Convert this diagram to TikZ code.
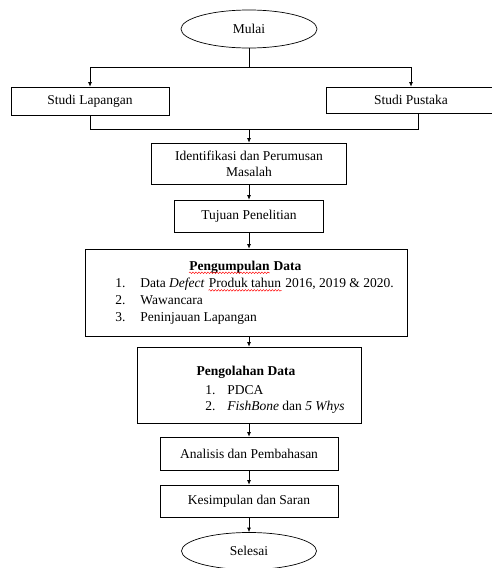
\documentclass[tikz,border=0pt]{standalone}
\usepackage{fontspec}
\setmainfont{Liberation Serif}
\usetikzlibrary{shapes.geometric,arrows.meta,decorations.pathmorphing}

\begin{document}
\begin{tikzpicture}[x=1pt, y=-1pt, line width=0.7pt,
    box/.style={draw, rectangle, inner sep=2pt},
    oval/.style={draw, ellipse, inner sep=0pt, minimum width=136pt, minimum height=38pt},
    arr/.style={-{Latex[length=4.5pt,width=4pt]}},
    word/.style={anchor=base west, inner sep=0pt},
    wave/.style={red, line width=0.45pt, decorate, decoration={snake, amplitude=0.8pt, segment length=3pt}},
    font=\fontsize{13.5}{16}\selectfont]
    \useasboundingbox (0,0) rectangle (492,568);
    % start and the two studies
    \node[oval] (mulai) at (249,29) {Mulai};
    \node[box, minimum width=158pt, minimum height=28pt] (lapangan) at (90,101) {Studi Lapangan};
    \node[box, minimum width=170pt, minimum height=26pt] (pustaka) at (411,100) {Studi Pustaka};
    \coordinate (cabang) at (249,67);
    \coordinate (gabung) at (249,129);
    \draw (mulai) -- (cabang);
    \draw[arr] (cabang) -| (lapangan.north);
    \draw[arr] (cabang) -| (pustaka.north);
    \draw (lapangan.south) |- (gabung);
    \draw (gabung) -| ([xshift=7pt]pustaka.south);
    % main steps
    \node[box, minimum width=195pt, minimum height=41pt, align=center] (identifikasi) at (249,163.5) {Identifikasi dan Perumusan\\Masalah};
    \node[box, minimum width=149pt, minimum height=32pt] (tujuan) at (249,216) {Tujuan Penelitian};
    \node[box, minimum width=322pt, minimum height=87pt] (kumpul) at (246,292.5) {};
    \node[word] (judulKumpul) at (189,270) {\textbf{Pengumpulan}};
    \node[word] (judulData) at ([xshift=3.4pt]judulKumpul.base east) {\textbf{Data}};
    \node[word] (kumpulA) at (115,287.5) {\makebox[25pt][l]{1.}Data \textit{Defect}};
    \node[word] (produk) at ([xshift=3.4pt]kumpulA.base east) {Produk tahun};
    \node[word] (tahunData) at ([xshift=3.4pt]produk.base east) {2016, 2019 \& 2020.};
    \node[word] (kumpulB) at (115,304.5) {\makebox[25pt][l]{2.}Wawancara};
    \node[word] (kumpulC) at (115,321.5) {\makebox[25pt][l]{3.}Peninjauan Lapangan};
    \draw[wave] ([yshift=-2.8pt]judulKumpul.base west) -- ([yshift=-2.8pt]judulKumpul.base east);
    \draw[wave] ([yshift=-2.8pt]produk.base west) -- ([yshift=-2.8pt]produk.base east);
    \node[box, minimum width=224pt, minimum height=76pt] (olah) at (249,385) {};
    \node (olahJudul) at (246,372) {\textbf{Pengolahan Data}};
    \node[anchor=west, inner sep=0pt] (olahA) at (205,390) {\makebox[22pt][l]{1.}PDCA};
    \node[anchor=west, inner sep=0pt] (olahB) at (205,407) {\makebox[22pt][l]{2.}\textit{FishBone} dan \textit{5 Whys}};
    \node[box, minimum width=178pt, minimum height=33pt] (analisis) at (249,453.5) {Analisis dan Pembahasan};
    \node[box, minimum width=178pt, minimum height=32pt] (simpulan) at (249,501) {Kesimpulan dan Saran};
    \node[oval, minimum width=135pt, minimum height=37pt] (selesai) at (249,551) {Selesai};
    % arrows down
    \draw[arr] (gabung) -- (identifikasi.north);
    \draw[arr] (identifikasi) -- (tujuan);
    \draw[arr] (tujuan.south) -- (tujuan.south |- kumpul.north);
    \draw[arr] (olah.north |- kumpul.south) -- (olah.north);
    \draw[arr] (olah) -- (analisis);
    \draw[arr] (analisis) -- (simpulan);
    \draw[arr] (simpulan) -- (selesai);
\end{tikzpicture}
\end{document}
